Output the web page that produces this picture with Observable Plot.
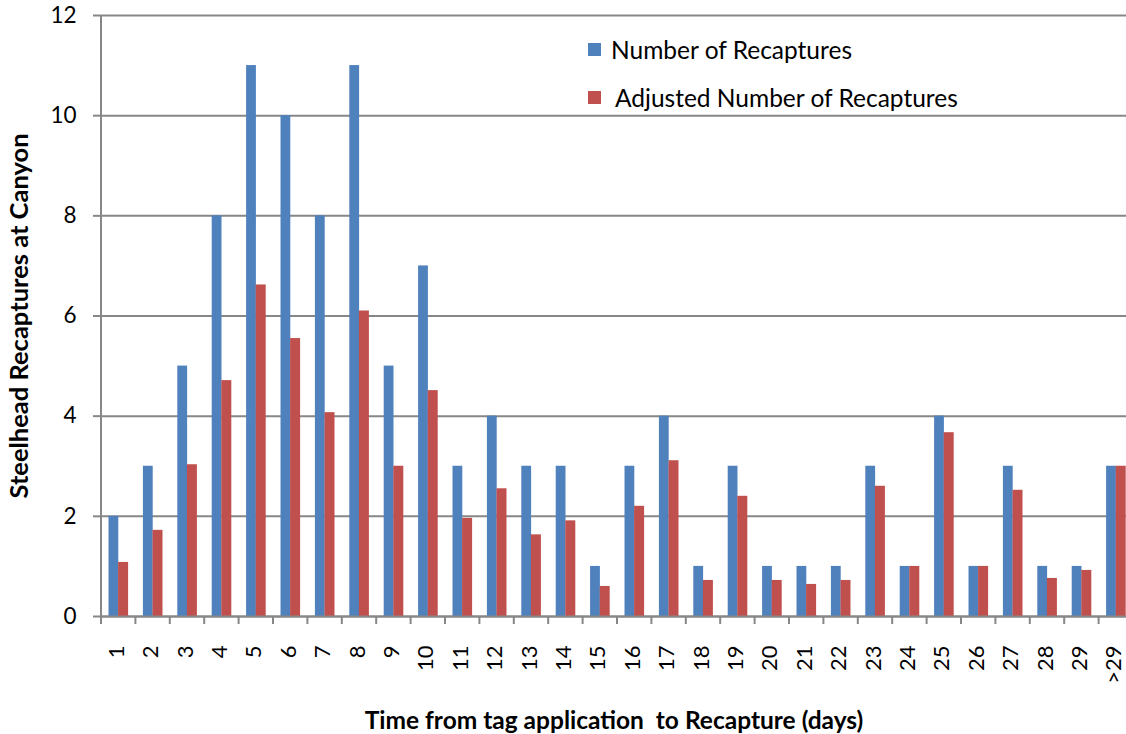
<!DOCTYPE html>
<html><head><meta charset="utf-8">
<script src="https://cdn.jsdelivr.net/npm/d3@7"></script>
<script src="https://cdn.jsdelivr.net/npm/@observablehq/plot@0.6"></script>
<style>
body{margin:0;background:#fff;font-family:Lato,sans-serif;color:#000;}
#wrap{position:relative;width:1126px;height:734px;overflow:hidden;}
#wrap svg{position:absolute;left:0;top:0;}
.sw{position:absolute;width:13px;height:13px;}
.lt{position:absolute;font-size:24.5px;line-height:24px;white-space:nowrap;}
#xt{position:absolute;left:0;width:1228px;top:707px;text-align:center;font-weight:bold;font-size:24.5px;line-height:26px;white-space:nowrap;}
#yt{position:absolute;left:18px;top:316px;transform:translate(-50%,-50%) rotate(-90deg);font-weight:bold;font-size:25.5px;line-height:26px;white-space:nowrap;}
</style></head>
<body><div id="wrap"></div>
<script>
const categories = ["1","2","3","4","5","6","7","8","9","10","11","12","13","14","15","16","17","18","19","20","21","22","23","24","25","26","27","28","29",">29"];
const recaptures = [2,3,5,8,11,10,8,11,5,7,3,4,3,3,1,3,4,1,3,1,1,1,3,1,4,1,3,1,1,3];
const adjusted = [1.08,1.72,3.03,4.71,6.62,5.55,4.07,6.1,3.0,4.51,1.96,2.55,1.63,1.91,0.6,2.2,3.11,0.72,2.4,0.72,0.64,0.72,2.6,1.0,3.67,1.0,2.52,0.76,0.92,3.0];
const yTicks = [0,2,4,6,8,10,12];
const seriesNames = ["Number of Recaptures","Adjusted Number of Recaptures"];
const seriesColors = ["#4F81BD","#C0504D"];
const xTitle = "Time from tag application\u00a0 to Recapture (days)";
const yTitle = "Steelhead Recaptures at Canyon";

const gray = "#878787";
const rows = categories.map((c,i)=>({cat:c, n:recaptures[i], adj:adjusted[i]}));

const chart = Plot.plot({
  width:1126, height:734,
  marginLeft:100, marginRight:0, marginTop:15, marginBottom:118,
  x:{domain:categories, range:[100.5,1132.5], padding:0, round:false, axis:null, label:null},
  y:{domain:[0,12], axis:null, label:null},
  style:{fontFamily:"Lato, sans-serif", background:"#fff", color:"#000"},
  marks:[
    Plot.ruleY(yTicks,{y:d=>d, stroke:gray, strokeWidth:2}),
    Plot.barY(rows,{x:"cat", y:"n", fill:seriesColors[0], insetLeft:8, insetRight:16.6}),
    Plot.barY(rows,{x:"cat", y:"adj", fill:seriesColors[1], insetLeft:17.6, insetRight:6.8}),
    Plot.ruleY([0],{y:d=>d, stroke:gray, strokeWidth:2}),
    Plot.ruleX([categories[0]],{x:d=>d, y1:0, y2:12, dx:-17.2, stroke:gray, strokeWidth:2}),
    Plot.axisY({ticks:yTicks, tickSize:7, tickPadding:17, stroke:gray, strokeWidth:2, fill:"#000", fontSize:22.5, label:null}),
    Plot.axisX({tickSize:8, tickFormat:()=>"", dx:-17.2, stroke:gray, strokeWidth:2, label:null}),
    Plot.axisX({tickSize:0, tickPadding:29, tickRotate:-90, fontSize:22, dx:-1.5, fill:"#000", label:null})
  ]
});
const wrap = document.getElementById("wrap");
wrap.appendChild(chart);

const legendTop = [38, 86];
const swTop = [43, 91];
const textLeft = [611, 615];
seriesNames.forEach((name,i)=>{
  const s = document.createElement("div");
  s.className="sw"; s.style.left="588px"; s.style.top=swTop[i]+"px"; s.style.background=seriesColors[i];
  wrap.appendChild(s);
  const t = document.createElement("div");
  t.className="lt"; t.style.left=textLeft[i]+"px"; t.style.top=legendTop[i]+"px"; t.textContent=name;
  wrap.appendChild(t);
});
const xt = document.createElement("div"); xt.id="xt"; xt.textContent=xTitle; wrap.appendChild(xt);
const yt = document.createElement("div"); yt.id="yt"; yt.textContent=yTitle; wrap.appendChild(yt);
</script>
</body></html>
